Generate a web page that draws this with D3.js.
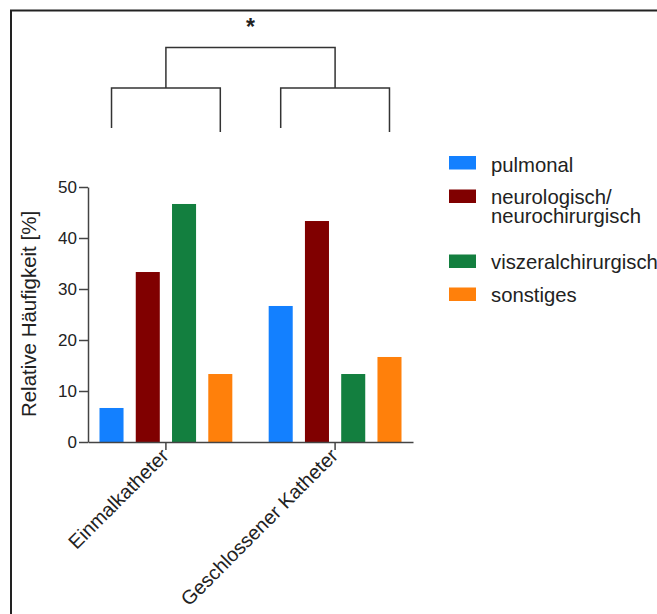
<!DOCTYPE html>
<html>
<head>
<meta charset="utf-8">
<script src="https://cdn.jsdelivr.net/npm/d3@7"></script>
<style>
  html, body { margin: 0; padding: 0; background: #fff; }
  svg { display: block; font-family: "Liberation Sans", Arial, sans-serif; }
</style>
</head>
<body>
<svg id="chart" width="657" height="614"></svg>
<script>
// Catheter type groups and indication categories
const groups = ["Einmalkatheter", "Geschlossener Katheter"];
const seriesNames = ["pulmonal", "neurologisch/\nneurochirurgisch", "viszeralchirurgisch", "sonstiges"];
const seriesColors = ["#1380ff", "#800000", "#137f3f", "#ff800b"];
// Relative frequency [%] per group, one value per series
const einmalValues = [6.67, 33.33, 46.67, 13.33];
const geschlossenValues = [26.67, 43.33, 13.33, 16.67];
const yTicks = [0, 10, 20, 30, 40, 50];
const significance = "*";

const values = [einmalValues, geschlossenValues];

const svg = d3.select("#chart");
const ink = "#222";

// Outer frame (left and top edges)
svg.append("path")
  .attr("d", "M11,614V10.5H657")
  .attr("fill", "none").attr("stroke", ink).attr("stroke-width", 2);

const y = d3.scaleLinear().domain([0, 50]).range([442, 187]);
const x0 = d3.scaleBand().domain(groups).range([88, 413]).paddingInner(0.079).paddingOuter(0);
const x1 = d3.scaleBand().domain(d3.range(seriesNames.length))
  .range([0, x0.bandwidth()]).paddingInner(0.337).paddingOuter(0.317);

// Bars
const g = svg.append("g");
groups.forEach((grp, gi) => {
  g.selectAll(null).data(values[gi]).enter().append("rect")
    .attr("x", (d, i) => x0(grp) + x1(i))
    .attr("width", x1.bandwidth())
    .attr("y", d => y(d))
    .attr("height", d => y(0) - y(d))
    .attr("fill", (d, i) => seriesColors[i]);
});

// Y axis
const yAxis = svg.append("g").attr("transform", "translate(88,0)")
  .call(d3.axisLeft(y).tickValues(yTicks).tickSize(9).tickPadding(2).tickSizeOuter(0));
yAxis.select(".domain").attr("stroke", "#444").attr("stroke-width", 1.5);
yAxis.selectAll(".tick line").attr("stroke", "#444").attr("stroke-width", 1.5);
yAxis.selectAll(".tick text").attr("font-size", 17).attr("fill", ink)
  .attr("font-family", "Liberation Sans, Arial, sans-serif");

// X axis
const xAxis = svg.append("g").attr("transform", "translate(0,442)")
  .call(d3.axisBottom(x0).tickSize(8).tickSizeOuter(0).tickFormat(""));
xAxis.select(".domain").attr("stroke", "#444").attr("stroke-width", 1.5);
xAxis.selectAll(".tick line").attr("stroke", "#444").attr("stroke-width", 1.5);

// Rotated category labels
svg.selectAll(".cat").data(groups).enter().append("text")
  .attr("class", "cat")
  .attr("transform", d => `translate(${x0(d) + x0.bandwidth() / 2 + 4},${457}) rotate(-45)`)
  .attr("text-anchor", "end")
  .attr("font-size", 19.8).attr("fill", ink)
  .text(d => d);

// Y axis title
svg.append("text")
  .attr("transform", "translate(35.5,314) rotate(-90)")
  .attr("text-anchor", "middle")
  .attr("font-size", 20.5).attr("fill", ink)
  .text("Relative Häufigkeit [%]");

// Significance brackets
const barCenter = (gi, si) => x0(groups[gi]) + x1(si) + x1.bandwidth() / 2;
const groupCenter = gi => x0(groups[gi]) + x0.bandwidth() / 2;
const br = svg.append("g").attr("fill", "none").attr("stroke", "#333").attr("stroke-width", 1.5);
[0, 1].forEach(gi => {
  const xl = barCenter(gi, 0), xr = barCenter(gi, seriesNames.length - 1);
  br.append("path").attr("d", `M${xl},128V88H${xr}V132`);
});
br.append("path").attr("d", `M${groupCenter(0)},88V47.5H${groupCenter(1)}V88`);
svg.append("text")
  .attr("x", (groupCenter(0) + groupCenter(1)) / 2).attr("y", 35)
  .attr("text-anchor", "middle").attr("font-size", 23).attr("font-weight", "bold").attr("fill", ink)
  .text(significance);

// Legend
const legendRows = [
  { swatchY: 156, baseline: 171.5 },
  { swatchY: 189.5, baseline: 203.5 },
  { swatchY: 254.5, baseline: 268.5 },
  { swatchY: 287.5, baseline: 301.5 }
];
const legend = svg.append("g");
seriesNames.forEach((name, i) => {
  const row = legendRows[i];
  legend.append("rect")
    .attr("x", 449).attr("y", row.swatchY).attr("width", 27).attr("height", 13.5)
    .attr("fill", seriesColors[i]);
  const t = legend.append("text")
    .attr("x", 491).attr("y", row.baseline)
    .attr("font-size", 20.3).attr("fill", ink);
  name.split("\n").forEach((line, li) => {
    t.append("tspan").attr("x", 491).attr("dy", li === 0 ? 0 : 19.5).text(line);
  });
});
</script>
</body>
</html>
